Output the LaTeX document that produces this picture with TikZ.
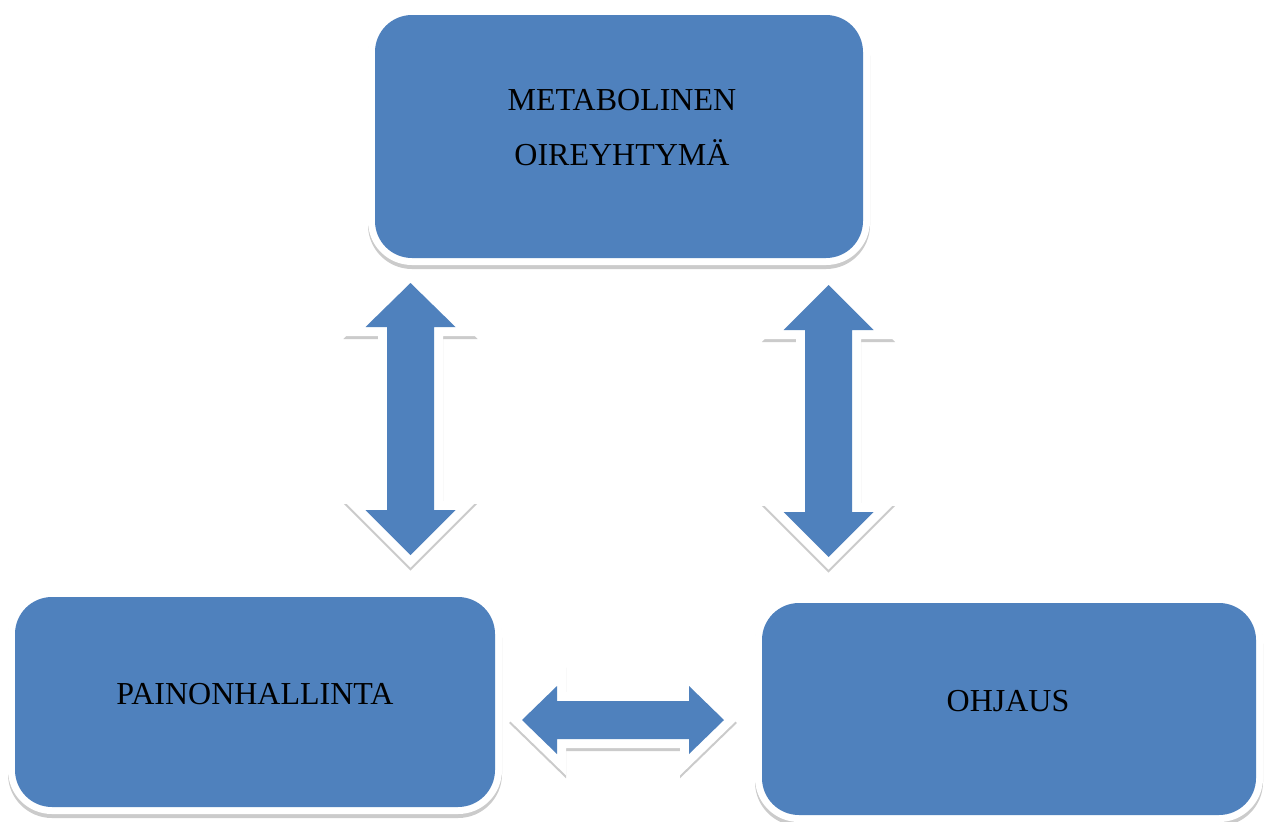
\documentclass[tikz,border=0pt]{standalone}
\usepackage{fontspec}
\setmainfont{Liberation Serif}
\definecolor{ablue}{HTML}{4F81BD}
\definecolor{shgray}{HTML}{CBCBCB}
\tikzset{
  boxnode/.style={rectangle, inner sep=0pt, rounded corners=37pt, fill=ablue,
    preaction={draw=shgray, line width=14pt, transform canvas={yshift=-4pt}},
    preaction={draw=white, line width=14pt}},
  lbl/.style={anchor=base, inner sep=0pt, font=\fontsize{32}{38}\selectfont, text=black},
  blockarrow/.style={fill=ablue, line join=miter,
    preaction={draw=shgray, line width=18pt, transform canvas={yshift=-3pt}},
    preaction={draw=white, line width=18pt}}
}
\begin{document}
\begin{tikzpicture}[x=1pt,y=-1pt]
\useasboundingbox (0,0) rectangle (1264,822);
% block arrows
\path[blockarrow] (410.5,283) -- (455.5,327) -- (434,327) -- (434,510) -- (455.5,510)
  -- (410.5,555) -- (365.5,510) -- (387,510) -- (387,327) -- (365.5,327) -- cycle;
\path[blockarrow] (828.5,285) -- (873.5,330) -- (852,330) -- (852,512) -- (873.5,512)
  -- (828.5,557) -- (783.5,512) -- (805,512) -- (805,330) -- (783.5,330) -- cycle;
\path[blockarrow] (522,720) -- (557,686) -- (557,701) -- (689,701) -- (689,686)
  -- (724,720) -- (689,754) -- (689,739) -- (557,739) -- (557,754) -- cycle;
% boxes
\node[boxnode, minimum width=488pt, minimum height=243pt] (meta) at (619,136.5) {};
\node[boxnode, minimum width=480pt, minimum height=210pt] (paino) at (255,702) {};
\node[boxnode, minimum width=494pt, minimum height=212pt] (ohj) at (1009,709) {};
% labels
\node[lbl] (meta1) at (622,110) {METABOLINEN};
\node[lbl] (meta2) at (622,165) {OIREYHTYMÄ};
\node[lbl] (painot) at (255,704) {PAINONHALLINTA};
\node[lbl] (ohjt) at (1008,711) {OHJAUS};
\end{tikzpicture}
\end{document}
